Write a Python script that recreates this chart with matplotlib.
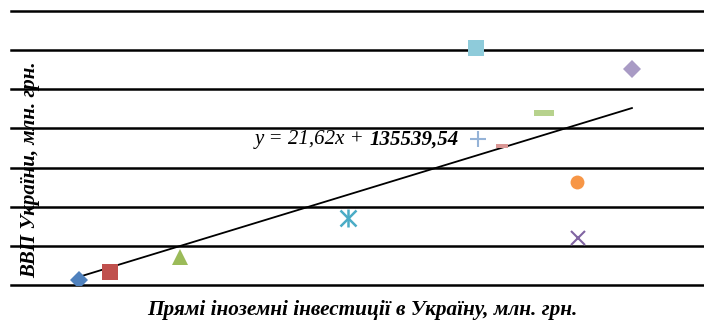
import numpy as np
import matplotlib
matplotlib.use("Agg")
import matplotlib.pyplot as plt

# FDI (x, mln UAH) and GDP (y, mln UAH), one point per series
fdi = [4900, 7150, 12200, 40900, 24300, 40850, 33700, 35400, 38450, 33550, 44800]
gdp = [225810, 267344, 345113, 441452, 544153, 726330, 946060, 910290, 1078920, 1411070, 1303760]
markers = ['D', 's', '^', 'x', 'star', 'o', '+', 'dash_s', 'dash', 's', 'D']
colors = ['#4F81BD', '#C0504D', '#9BBB59', '#8064A2', '#4BACC6', '#F79646',
          '#95B3D7', '#D99694', '#B7D28D', '#8ECBDA', '#A99BC5']
sizes = [9, 11, 11, 10, 11, 10, 11, 9, 14, 11, 9]

# trendline from the chart label
slope = 21.62
intercept = 135539.54
eq_left = 'y = 21,62x + '
eq_right = '135539,54'

plt.rcParams['font.family'] = ['Liberation Serif', 'DejaVu Serif']

fig = plt.figure(figsize=(7.04, 3.22), dpi=100)
ax = fig.add_axes([11 / 704, 37 / 322, 693 / 704, 274 / 322])

dash_path = [(-1, -0.3), (1, -0.3), (1, 0.3), (-1, 0.3), (-1, -0.3)]

for x, y, m, c, s in zip(fdi, gdp, markers, colors, sizes):
    if m == 'star':
        ax.plot(x, y, marker='x', color=c, ms=s, mew=1.8, ls='none', zorder=3)
        ax.plot(x, y, marker='|', color=c, ms=s * 1.2, mew=1.8, ls='none', zorder=3)
    elif m in ('dash', 'dash_s'):
        ax.plot(x, y, marker=dash_path, color=c, ms=s, mew=0, ls='none', zorder=3)
    elif m in ('x', '+'):
        ax.plot(x, y, marker=m, color=c, ms=s, mew=1.5, ls='none', zorder=3)
    else:
        ax.plot(x, y, marker=m, color=c, ms=s, mew=0, ls='none', zorder=3)

xs = np.array([min(fdi), max(fdi)])
ax.plot(xs, slope * xs + intercept, color='black', lw=1.3, zorder=2)

t1 = ax.text(17600, 945000, eq_left, fontsize=15, style='italic',
             va='center', ha='left', zorder=4)
ax.annotate(eq_right, xy=(1, 0.5), xycoords=t1, va='center', ha='left',
            fontsize=15, style='italic', fontweight='bold', zorder=4)

ax.set_xlim(0, 50000)
ax.set_ylim(200000, 1600000)
ax.set_yticks(np.arange(200000, 1600001, 200000))
ax.set_xticks([])
ax.tick_params(axis='y', length=0, labelleft=False)
ax.grid(axis='y', color='black', lw=1.8)
for gl in ax.get_ygridlines():
    gl.set_clip_on(False)
ax.set_axisbelow(True)
for sp in ax.spines.values():
    sp.set_visible(False)

fig.text(30 / 704, 0.472, 'ВВП України, млн. грн.', rotation=90, fontsize=15,
         style='italic', fontweight='bold', ha='center', va='center')
fig.text(362 / 704, 0.037, 'Прямі іноземні інвестиції в Україну, млн. грн.',
         fontsize=15.3, style='italic', fontweight='bold', ha='center', va='center')

fig.savefig('out.png', dpi=100)
